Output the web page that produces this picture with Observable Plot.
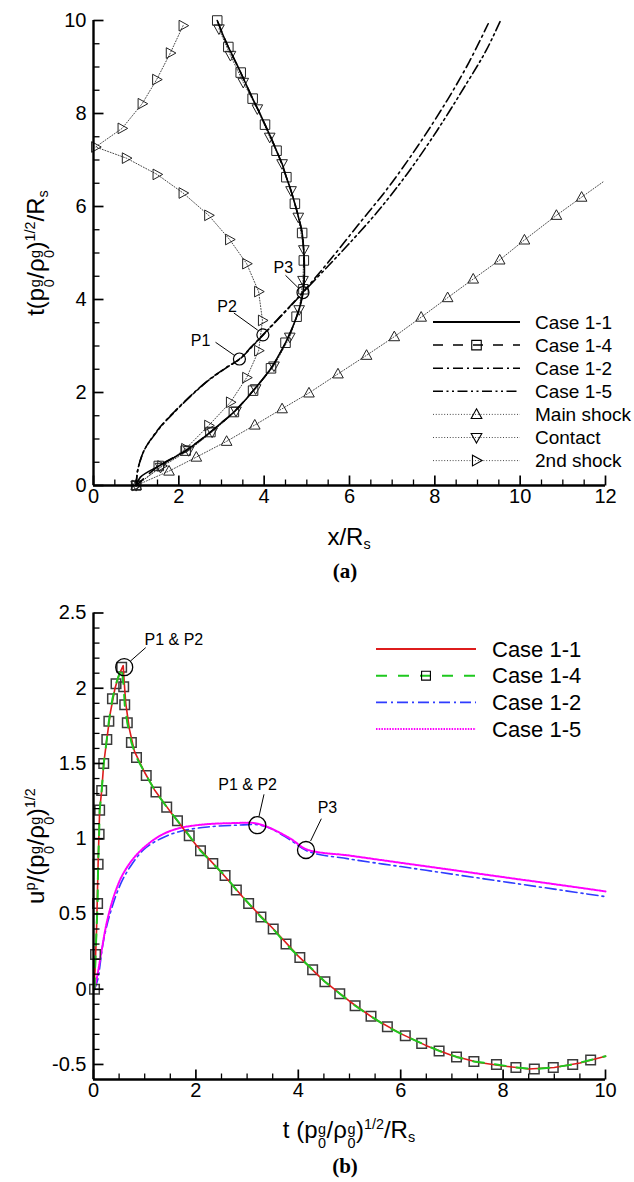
<!DOCTYPE html>
<html><head><meta charset="utf-8">
<script src="https://cdn.jsdelivr.net/npm/d3@7"></script>
<script src="https://cdn.jsdelivr.net/npm/@observablehq/plot@0.6"></script>
<style>
html,body{margin:0;padding:0;background:#fff;}
#root{position:relative;width:634px;height:1182px;overflow:hidden;font-family:"Liberation Sans",Arial,sans-serif;color:#000;background:#fff}
.abs{position:absolute}
.title{position:absolute;font-size:24px;line-height:1;white-space:nowrap;transform:translate(-50%,-50%)}
.rot{transform:translate(-50%,-50%) rotate(-90deg)}
.st{display:inline-flex;flex-direction:column;font-size:0.6em;line-height:1;vertical-align:0.28em;margin:0 0.5px}
.sp{font-size:0.6em;vertical-align:0.6em;line-height:0}
.sb{font-size:0.6em;vertical-align:-0.3em;line-height:0}
.tag{position:absolute;font-family:"Liberation Serif","Times New Roman",serif;font-weight:bold;font-size:21px;transform:translate(-50%,-50%);line-height:1}
</style></head>
<body><div id="root">
<div id="pa" class="abs" style="left:0;top:0"></div>
<div id="pb" class="abs" style="left:0;top:590px"></div>
<svg id="ov" class="abs" width="634" height="1182" style="left:0;top:0;pointer-events:none"></svg>
<div class="title rot" style="left:40px;top:253px">t(p<span class="st"><span>g</span><span>0</span></span>/ρ<span class="st"><span>g</span><span>0</span></span>)<span class="sp">1/2</span>/R<span class="sb">s</span></div>
<div class="title" style="left:349px;top:537px">x/R<span class="sb">s</span></div>
<div class="tag" style="left:345px;top:571px">(a)</div>
<div class="title rot" style="left:40px;top:846px">u<span class="sp">p</span>/(p<span class="st"><span>g</span><span>0</span></span>/ρ<span class="st"><span>g</span><span>0</span></span>)<span class="sp">1/2</span></div>
<div class="title" style="left:349px;top:1134px">t (p<span class="st"><span>g</span><span>0</span></span>/ρ<span class="st"><span>g</span><span>0</span></span>)<span class="sp">1/2</span>/R<span class="sb">s</span></div>
<div class="tag" style="left:345px;top:1166px">(b)</div>
</div>
<script>
// ---------------- Panel (a) data: t vs x/Rs ----------------
const case11A_x = [1,1.1,1.53,1.85,2.16,2.45,2.74,3.0,3.29,3.52,3.74,3.96,4.16,4.34,4.5,4.64,4.76,4.86,4.91,4.94,4.94,4.92,4.89,4.81,4.72,4.63,4.52,4.42,4.29,4.16,4.02,3.88,3.73,3.59,3.45,3.31,3.16,3.03,2.9];
const case11A_t = [0,0.18,0.42,0.58,0.75,0.94,1.15,1.35,1.58,1.8,2.04,2.28,2.52,2.8,3.07,3.35,3.63,3.92,4.14,4.45,4.84,5.15,5.43,5.75,6.06,6.34,6.63,6.92,7.2,7.48,7.76,8.04,8.32,8.6,8.88,9.15,9.43,9.7,10];
const case14A_x = [1,1.53,2.16,2.74,3.29,3.74,4.16,4.5,4.76,4.92,4.93,4.89,4.72,4.52,4.29,4.02,3.73,3.45,3.16,2.9];
const case14A_t = [0,0.42,0.75,1.15,1.58,2.04,2.52,3.07,3.63,4.22,4.84,5.43,6.06,6.63,7.2,7.76,8.32,8.88,9.43,10];
const case12A_x = [1,1.03,1.1,1.2,1.38,1.6,1.92,2.3,2.7,3.1,3.42,3.7,3.97,4.3,4.62,4.9,5.5,6.2,6.9,7.6,8.3,8.8,9.25];
const case12A_t = [0,0.3,0.55,0.78,1.04,1.3,1.61,1.95,2.27,2.53,2.72,2.98,3.24,3.56,3.87,4.15,4.8,5.6,6.4,7.3,8.3,9.1,9.93];
const case15A_x = [1,1.03,1.1,1.2,1.39,1.61,1.93,2.31,2.71,3.11,3.43,3.71,3.98,4.31,4.63,4.93,5.5,5.95,6.65,7.35,8.05,8.76,9.2,9.54];
const case15A_t = [0,0.3,0.55,0.78,1.04,1.3,1.61,1.95,2.27,2.53,2.72,2.98,3.24,3.56,3.87,4.17,4.72,5.16,5.88,6.7,7.63,8.67,9.35,10];
const mainShock_x = [1,1.77,2.41,3.12,3.78,4.42,5.05,5.73,6.4,7.05,7.68,8.3,8.9,9.52,10.1,10.85,11.44];
const mainShock_t = [0,0.31,0.61,0.95,1.3,1.65,1.99,2.4,2.8,3.2,3.62,4.04,4.44,4.85,5.28,5.81,6.2];
const mainShockEnd = {x: 11.96, t: 6.54};
const contact_x = [1,1.57,2.23,2.78,3.34,3.8,4.23,4.6,4.82,4.91,4.93,4.8,4.63,4.42,4.13,3.84,3.51,3.21,2.94];
const contact_t = [0,0.39,0.75,1.15,1.6,2.08,2.57,3.19,3.78,4.41,5.07,5.77,6.34,6.92,7.49,8.1,8.67,9.25,9.82];
const shock2_x = [1,1.6,2.16,2.7,3.21,3.59,3.87,3.96,3.87,3.59,3.19,2.7,2.1,1.49,0.77,0.05,0.67,1.14,1.48,1.8,2.1];
const shock2_t = [0,0.42,0.79,1.29,1.79,2.32,2.9,3.55,4.17,4.77,5.29,5.81,6.29,6.69,7.04,7.28,7.68,8.21,8.73,9.3,9.89];
// annotations (a)
const annA_label = ["P1","P2","P3"];
const annA_x = [3.42,3.97,4.91];
const annA_t = [2.72,3.24,4.15];
const annA_lx = [2.51,3.13,4.45];
const annA_lt = [3.12,3.85,4.69];
const annA_sx = [2.86,3.29,4.5];
const annA_st = [3.08,3.71,4.52];
const annA_ex = [3.3,3.85,4.8];
const annA_et = [2.8,3.34,4.25];
// axes (a)
const xTicksA = [0,2,4,6,8,10,12];
const yTicksA = [0,2,4,6,8,10];
const legendA = ["Case 1-1","Case 1-4","Case 1-2","Case 1-5","Main shock","Contact","2nd shock"];

// ---------------- Panel (b) data: u^p vs t ----------------
const case11B_t = [0,0.03,0.06,0.09,0.12,0.16,0.2,0.26,0.33,0.42,0.5,0.58,0.6,0.63,0.7,0.8,1.0,1.2,1.5,2.0,2.5,3.0,3.5,4.0,4.5,5.0,5.5,6.0,6.5,7.0,7.5,8.0,8.5,9.0,9.5,10];
const case11B_u = [0,0.12,0.4,0.83,1.19,1.32,1.5,1.66,1.84,2.0,2.09,2.15,2.04,1.9,1.73,1.58,1.44,1.32,1.18,0.96,0.775,0.58,0.405,0.22,0.055,-0.08,-0.2,-0.295,-0.375,-0.44,-0.485,-0.51,-0.53,-0.52,-0.49,-0.445];
const case14B_t = [0.02,0.04,0.08,0.09,0.11,0.12,0.16,0.2,0.26,0.3,0.37,0.44,0.55,0.59,0.61,0.66,0.74,0.84,1.03,1.22,1.43,1.64,1.87,2.09,2.33,2.57,2.79,3.03,3.27,3.51,3.76,4.03,4.28,4.52,4.81,5.11,5.42,5.74,6.09,6.41,6.75,7.09,7.43,7.87,8.25,8.61,8.98,9.36,9.71];
const case14B_u = [0,0.23,0.57,0.83,1.03,1.19,1.32,1.5,1.66,1.78,1.93,2.03,2.14,2.01,1.89,1.77,1.64,1.54,1.42,1.31,1.21,1.12,1.02,0.92,0.835,0.755,0.66,0.57,0.48,0.40,0.30,0.21,0.13,0.05,-0.03,-0.11,-0.18,-0.25,-0.31,-0.36,-0.41,-0.45,-0.48,-0.5,-0.52,-0.53,-0.52,-0.5,-0.47];
const case14BEnd = {t: 10, u: -0.445};
const case12B_t = [0.02,0.08,0.2,0.34,0.53,0.73,0.99,1.31,1.7,2.23,2.81,3.2,3.45,3.85,4.2,5,6,7,8,9,10];
const case12B_u = [0,0.06,0.33,0.52,0.7,0.82,0.93,1.0,1.05,1.078,1.09,1.093,1.07,0.99,0.915,0.865,0.815,0.765,0.715,0.665,0.615];
const case15B_t = [0.02,0.08,0.14,0.27,0.44,0.6,0.86,1.25,1.64,2.16,2.75,3.14,3.4,3.85,4.17,5,6,7,8,9,10];
const case15B_u = [0,0.1,0.22,0.46,0.66,0.78,0.9,1.01,1.067,1.095,1.104,1.104,1.078,1.0,0.928,0.888,0.84,0.793,0.745,0.698,0.65];
// annotations (b)
const annB_label = ["P1 & P2","P1 & P2","P3"];
const annB_t = [0.6,3.2,4.15];
const annB_u = [2.14,1.09,0.925];
const annB_lt = [1.57,3.01,4.57];
const annB_lu = [2.32,1.355,1.206];
const annB_st = [1.02,3.33,4.45];
const annB_su = [2.27,1.295,1.133];
const annB_et = [0.72,3.23,4.24];
const annB_eu = [2.18,1.145,0.985];
// axes (b)
const xTicksB = [0,2,4,6,8,10];
const yTicksB = [-0.5,0,0.5,1,1.5,2,2.5];
const legendB = ["Case 1-1","Case 1-4","Case 1-2","Case 1-5"];

// ---------------- helpers ----------------
const pts = (xs, ys) => xs.map((x, i) => ({x, y: ys[i]}));
const rad = s => Math.sqrt(s / Math.PI);
const triUp = {draw(c, s){ const r = rad(s); c.moveTo(0,-r); c.lineTo(r*0.95, r*0.72); c.lineTo(-r*0.95, r*0.72); c.closePath(); }};
const triDown = {draw(c, s){ const r = rad(s); c.moveTo(0,r); c.lineTo(r*0.95,-r*0.72); c.lineTo(-r*0.95,-r*0.72); c.closePath(); }};
const triRight = {draw(c, s){ const r = rad(s); c.moveTo(r,0); c.lineTo(-r*0.72,-r*0.95); c.lineTo(-r*0.72, r*0.95); c.closePath(); }};
const sq = {draw(c, s){ const r = rad(s); c.rect(-r*0.85,-r*0.85,r*1.7,r*1.7); }};
// inward tick shapes (length = r)
const tickUp = {draw(c, s){ const r = rad(s); c.moveTo(0,0); c.lineTo(0,-r); }};
const tickRight = {draw(c, s){ const r = rad(s); c.moveTo(0,0); c.lineTo(r,0); }};

function axisMarks(xd, yd, xMaj, xMin, yMaj, yMin) {
  const t = {fill: "none", stroke: "#000"};
  return [
    Plot.dot(xMaj, {x: d => d, y: yd[0], symbol: tickUp, r: 10, strokeWidth: 1.7, ...t}),
    Plot.dot(xMin, {x: d => d, y: yd[0], symbol: tickUp, r: 6, strokeWidth: 1.3, ...t}),
    Plot.dot(yMaj, {y: d => d, x: xd[0], symbol: tickRight, r: 10, strokeWidth: 1.7, ...t}),
    Plot.dot(yMin, {y: d => d, x: xd[0], symbol: tickRight, r: 6, strokeWidth: 1.3, ...t}),
    Plot.ruleY([yd[0]], {stroke: "#000", strokeWidth: 2.4}),
    Plot.ruleX([xd[0]], {stroke: "#000", strokeWidth: 2.4}),
    Plot.axisX(xMaj, {tickSize: 0, tickPadding: 3, label: null, tickFormat: d => String(d)}),
    Plot.axisY(yMaj, {tickSize: 0, tickPadding: 7, label: null, tickFormat: d => String(d)})
  ];
}
const notIn = (arr) => v => !arr.some(a => Math.abs(a - v) < 1e-9);
const baseStyle = {fontFamily: "'Liberation Sans', Arial, sans-serif", fontSize: "20px", color: "#000", background: "transparent", overflow: "visible"};

// ---------------- Panel (a) ----------------
const xdA = [0, 12], ydA = [0, 10];
const xMinA = d3.range(0, 24).map(i => i / 2).filter(notIn(xTicksA));
const yMinA = d3.range(0, 20).map(i => i / 2).filter(notIn(yTicksA));
const mainLine = pts(mainShock_x, mainShock_t).concat([{x: mainShockEnd.x, y: mainShockEnd.t}]);
const annA = annA_label.map((l, i) => ({l, x: annA_x[i], y: annA_t[i], lx: annA_lx[i], ly: annA_lt[i], sx: annA_sx[i], sy: annA_st[i], ex: annA_ex[i], ey: annA_et[i]}));
const dotted = {stroke: "#333", strokeWidth: 0.9, strokeDasharray: "1,1.8"};
const mk = {fill: "none", stroke: "#222", strokeWidth: 1};

const plotA = Plot.plot({
  width: 634, height: 560,
  marginTop: 20, marginBottom: 75, marginLeft: 93, marginRight: 29,
  x: {domain: xdA}, y: {domain: ydA},
  style: baseStyle,
  marks: [
    Plot.line(mainLine, {x: "x", y: "y", ...dotted}),
    Plot.line(pts(contact_x, contact_t), {x: "x", y: "y", ...dotted}),
    Plot.line(pts(shock2_x, shock2_t), {x: "x", y: "y", ...dotted}),
    Plot.dot(pts(mainShock_x, mainShock_t), {x: "x", y: "y", symbol: triUp, r: 5.6, ...mk}),
    Plot.dot(pts(contact_x, contact_t), {x: "x", y: "y", symbol: triDown, r: 5.6, ...mk}),
    Plot.dot(pts(shock2_x, shock2_t), {x: "x", y: "y", symbol: triRight, r: 5.6, ...mk}),
    Plot.dot(pts(case14A_x, case14A_t), {x: "x", y: "y", symbol: sq, r: 5.6, ...mk}),
    Plot.line(pts(case14A_x, case14A_t), {x: "x", y: "y", curve: "catmull-rom", stroke: "#000", strokeWidth: 1.5, strokeDasharray: "10,8"}),
    Plot.line(pts(case11A_x, case11A_t), {x: "x", y: "y", curve: "catmull-rom", stroke: "#000", strokeWidth: 1.6}),
    Plot.line(pts(case12A_x, case12A_t), {x: "x", y: "y", curve: "catmull-rom", stroke: "#000", strokeWidth: 1.6, strokeDasharray: "10,4,2,4"}),
    Plot.line(pts(case15A_x, case15A_t), {x: "x", y: "y", curve: "catmull-rom", stroke: "#000", strokeWidth: 1.6, strokeDasharray: "10,3.5,2,3.5,2,3.5"}),
    Plot.dot(annA, {x: "x", y: "y", r: 6, fill: "none", stroke: "#000", strokeWidth: 1.2}),
    Plot.link(annA, {x1: "sx", y1: "sy", x2: "ex", y2: "ey", stroke: "#000", strokeWidth: 1}),
    Plot.text(annA, {x: "lx", y: "ly", text: "l", fontSize: 16, fill: "#000"}),
    ...axisMarks(xdA, ydA, xTicksA, xMinA, yTicksA, yMinA)
  ]
});
document.getElementById("pa").appendChild(plotA);

// ---------------- Panel (b) ----------------
const xdB = [0, 10], ydB = [-0.6, 2.5];
const xMinB = d3.range(0, 20).map(i => i / 2).filter(notIn(xTicksB));
const yMinB = d3.range(-5, 25).map(i => i / 10).filter(v => Math.abs(v * 2 - Math.round(v * 2)) > 1e-9);
const green = pts(case14B_t, case14B_u).concat([{x: case14BEnd.t, y: case14BEnd.u}]);
const annB = annB_label.map((l, i) => ({l, x: annB_t[i], y: annB_u[i], lx: annB_lt[i], ly: annB_lu[i], sx: annB_st[i], sy: annB_su[i], ex: annB_et[i], ey: annB_eu[i]}));

const plotB = Plot.plot({
  width: 634, height: 592,
  marginTop: 22.5, marginBottom: 103, marginLeft: 93, marginRight: 29,
  x: {domain: xdB}, y: {domain: ydB},
  style: baseStyle,
  marks: [
    Plot.line(pts(case12B_t, case12B_u), {x: "x", y: "y", curve: "catmull-rom", stroke: "#2f3cff", strokeWidth: 1.6, strokeDasharray: "11,4,2,4"}),
    Plot.line(pts(case15B_t, case15B_u), {x: "x", y: "y", curve: "catmull-rom", stroke: "#ff00ff", strokeWidth: 2, strokeDasharray: "1.5,1.2"}),
    Plot.dot(pts(case14B_t, case14B_u), {x: "x", y: "y", symbol: sq, r: 5.6, fill: "none", stroke: "#3a3a3a", strokeWidth: 1.5}),
    Plot.line(pts(case11B_t, case11B_u), {x: "x", y: "y", stroke: "#dd1c1c", strokeWidth: 1.6}),
    Plot.line(green, {x: "x", y: "y", stroke: "#1ec81e", strokeWidth: 2, strokeDasharray: "11,11"}),
    Plot.dot(annB, {x: "x", y: "y", r: 8.5, fill: "none", stroke: "#000", strokeWidth: 1.3}),
    Plot.link(annB, {x1: "sx", y1: "sy", x2: "ex", y2: "ey", stroke: "#000", strokeWidth: 1}),
    Plot.text(annB, {x: "lx", y: "ly", text: "l", fontSize: 16, fill: "#000"}),
    ...axisMarks(xdB, ydB, xTicksB, xMinB, yTicksB, yMinB)
  ]
});
document.getElementById("pb").appendChild(plotB);

// ---------------- Legends ----------------
const ov = d3.select("#ov");
const styleA = [
  {stroke: "#000", w: 1.8, dash: null, sym: null},
  {stroke: "#000", w: 1.5, dash: "10,10", sym: sq},
  {stroke: "#000", w: 1.5, dash: "10,4,2,4", sym: null},
  {stroke: "#000", w: 1.5, dash: "10,3.5,2,3.5,2,3.5", sym: null},
  {stroke: "#333", w: 0.9, dash: "1,1.8", sym: triUp},
  {stroke: "#333", w: 0.9, dash: "1,1.8", sym: triDown},
  {stroke: "#333", w: 0.9, dash: "1,1.8", sym: triRight}
];
const styleB = [
  {stroke: "#dd1c1c", w: 1.8, dash: null, sym: null},
  {stroke: "#1ec81e", w: 2, dash: "11,11", sym: sq},
  {stroke: "#2f3cff", w: 1.6, dash: "11,4,2,4", sym: null},
  {stroke: "#ff00ff", w: 2, dash: "1.5,1.2", sym: null}
];
function drawLegend(names, styles, o) {
  const g = ov.append("g").attr("font-family", "'Liberation Sans', Arial, sans-serif").attr("font-size", o.fs);
  names.forEach((n, i) => {
    const y = o.y0 + i * o.dy, s = styles[i];
    g.append("line").attr("x1", o.x1).attr("x2", o.x2).attr("y1", y).attr("y2", y)
      .attr("stroke", s.stroke).attr("stroke-width", s.w).attr("stroke-dasharray", s.dash);
    if (s.sym) g.append("path").attr("transform", `translate(${(o.x1 + o.x2) / 2},${y})`)
      .attr("d", d3.symbol(s.sym, o.r * o.r * Math.PI)()).attr("fill", "none").attr("stroke", "#000").attr("stroke-width", 1.1);
    g.append("text").attr("x", o.tx).attr("y", y).attr("dy", "0.35em").attr("fill", "#000").text(n);
  });
}
drawLegend(legendA, styleA, {x1: 433, x2: 520, tx: 535, y0: 322, dy: 23.1, fs: 19, r: 5.6});
drawLegend(legendB, styleB, {x1: 376, x2: 476, tx: 492, y0: 649, dy: 26.7, fs: 22, r: 5.2});
</script>
</body></html>
